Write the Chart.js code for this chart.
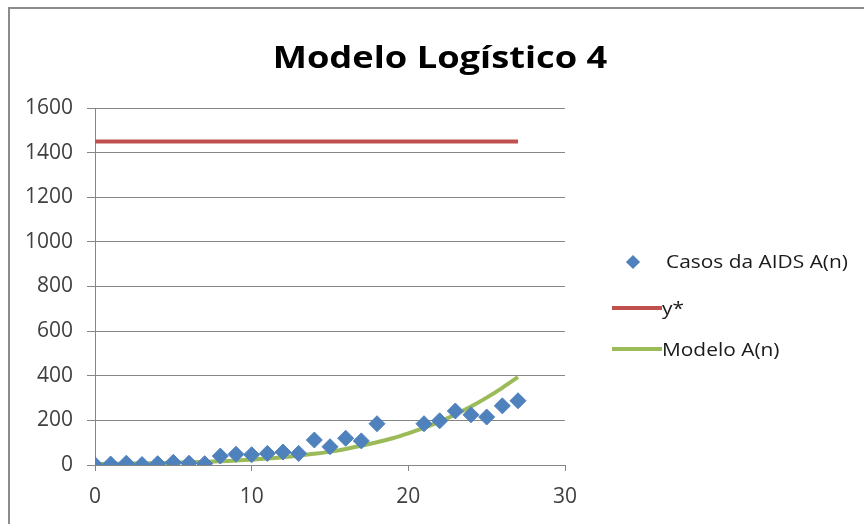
<!DOCTYPE html>
<html>
<head>
<meta charset="utf-8">
<script src="https://cdn.jsdelivr.net/npm/chart.js@4/dist/chart.umd.min.js"></script>
<style>
  html, body { margin:0; padding:0; background:#fff; }
  #wrap { position:relative; width:864px; height:524px; overflow:hidden; font-family: "Open Sans", Lato, sans-serif; }
  #frame { position:absolute; left:8px; top:7px; width:900px; height:600px; border-top:2px solid #8c8c8c; border-left:2px solid #8c8c8c; }
  #c { position:absolute; left:0; top:0; }
  #title { position:absolute; left:0; width:880px; top:35px; text-align:center; font-weight:bold; font-size:31px; color:#000; transform:scaleX(1.17); transform-origin:440px 0; }
  .leg { position:absolute; font-size:19px; color:#1a1a1a; white-space:nowrap; transform:scaleX(1.1); transform-origin:0 0; }
  .sw { position:absolute; height:4px; width:50px; }
  .dia { position:absolute; width:10px; height:10px; background:#4F81BD; transform:rotate(45deg); }
</style>
</head>
<body>
<div id="wrap">
  <div id="frame"></div>
  <canvas id="c" width="864" height="524"></canvas>
  <div id="title">Modelo Logístico 4</div>
  <div class="dia" style="left:628px; top:257px;"></div>
  <div class="leg" style="left:666px; top:248px;">Casos da AIDS A(n)</div>
  <div class="sw" style="left:612px; top:306px; background:#C0504D;"></div>
  <div class="leg" style="left:662px; top:295px;">y*</div>
  <div class="sw" style="left:612px; top:347px; background:#9BBB59;"></div>
  <div class="leg" style="left:662px; top:336px;">Modelo A(n)</div>
</div>
<script>
// Observed cases (n = 19 and 20 have no points in the reference)
const casosN = [0,1,2,3,4,5,6,7,8,9,10,11,12,13,14,15,16,17,18,21,22,23,24,25,26,27];
const casosA = [1,4,8,2,6,12,8,6,40,48,46,52,58,52,112,82,120,108,185,185,198,242,225,215,265,288];
// Equilibrium line y*
const yStarN = [0,27];
const yStarV = [1450,1450];
// Logistic model
const modeloN = [0,1,2,3,4,5,6,7,8,9,10,11,12,13,14,15,16,17,18,19,20,21,22,23,24,25,26,27];
const modeloA = [5,5,6,7,8,10,12,14,17,20,24,29,35,42,50,60,72,86,102,120,142,166,194,226,262,302,346,394];
const xTicks = [0,10,20,30];
const yTicks = [0,200,400,600,800,1000,1200,1400,1600];

const pts = (xs, ys) => xs.map((x,i)=>({x:x, y:ys[i]}));

new Chart(document.getElementById('c'), {
  type:'scatter',
  data:{
    datasets:[
      { label:'Modelo A(n)', data:pts(modeloN, modeloA), showLine:true, borderColor:'#9BBB59', backgroundColor:'#9BBB59', borderWidth:4, pointRadius:0, order:3, tension:0.3 },
      { label:'y*', data:pts(yStarN, yStarV), showLine:true, borderColor:'#C0504D', backgroundColor:'#C0504D', borderWidth:4, pointRadius:0, order:2 },
      { label:'Casos da AIDS A(n)', data:pts(casosN, casosA), showLine:false, pointStyle:'rectRot', pointRadius:8, backgroundColor:'#4F81BD', borderColor:'#4F81BD', borderWidth:1, order:1 }
    ]
  },
  options:{
    responsive:false, animation:false,
    layout:{ padding:{ left:0, top:108, right:299, bottom:0 } },
    plugins:{ legend:{display:false}, title:{display:false}, tooltip:{enabled:false} },
    scales:{
      x:{ type:'linear', min:0, max:30,
        afterBuildTicks: s => { s.ticks = xTicks.map(v=>({value:v})); },
        afterFit: s => { s.height = 59; },
        border:{ display:true, color:'#868686', width:1 },
        grid:{ drawOnChartArea:false, drawTicks:true, tickLength:6, color:'#868686' },
        ticks:{ color:'#404040', font:{ family:'Open Sans', size:21 }, padding:13, callback: v => String(v) }
      },
      y:{ type:'linear', min:0, max:1600,
        afterBuildTicks: s => { s.ticks = yTicks.map(v=>({value:v})); },
        afterFit: s => { s.width = 95; },
        border:{ display:true, color:'#868686', width:1 },
        grid:{ color:'#868686', lineWidth:1, drawTicks:true, tickLength:8 },
        ticks:{ color:'#404040', font:{ family:'Open Sans', size:21 }, padding:14, callback: v => String(v) }
      }
    }
  }
});
</script>
</body>
</html>
